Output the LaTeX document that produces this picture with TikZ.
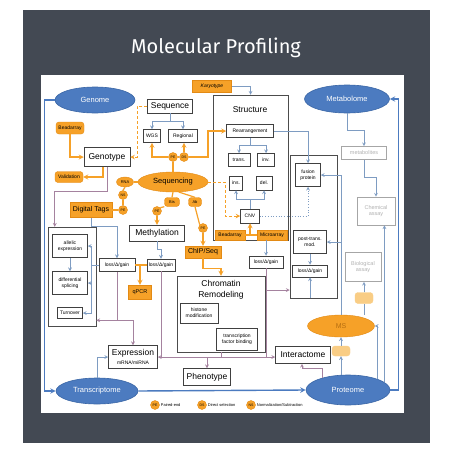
\documentclass[tikz,border=0pt]{standalone}
\usepackage{fontspec}
\setmainfont{Liberation Sans}
\newfontfamily\titlefont{Fira Sans}
\usetikzlibrary{shapes.geometric,arrows}
\definecolor{board}{HTML}{434953}
\definecolor{orfill}{HTML}{F6A128}
\definecolor{orline}{HTML}{E38A14}
\definecolor{orpale}{HTML}{F9CD85}
\definecolor{omfill}{HTML}{4C7BC0}
\definecolor{omline}{HTML}{3A66A6}
\definecolor{flow}{HTML}{7E9CC2}
\definecolor{link}{HTML}{A5829F}
\begin{document}
\begin{tikzpicture}[x=1pt,y=-1pt,
        >=stealth,
        box/.style={
          draw=black!75,
          fill=white,
          line width=0.5pt,
          inner sep=0.5pt,
          align=center,
          font=\fontsize{5}{5.6}\selectfont
        },
        bigbox/.style={
          box,
          font=\fontsize{8.5}{10}\selectfont
        },
        frame/.style={
          draw=black!70,
          line width=0.5pt
        },
        faint/.style={
          draw=black!35,
          fill=white,
          line width=0.6pt,
          inner sep=0.5pt,
          align=center,
          text=black!30,
          font=\fontsize{5.5}{6.5}\selectfont
        },
        tag/.style={
          fill=orfill,
          draw=orline,
          line width=0.4pt,
          inner sep=0.5pt,
          align=center,
          font=\fontsize{5}{5.6}\selectfont
        },
        pill/.style={
          tag,
          rounded corners=3pt
        },
        dot/.style={
          tag,
          circle,
          minimum size=9,
          inner sep=0pt,
          font=\fontsize{3.5}{4}\selectfont
        },
        omic/.style={
          ellipse,
          fill=omfill,
          draw=omline,
          line width=0.6pt,
          inner sep=0pt,
          text=white,
          font=\fontsize{7.5}{8}\selectfont
        },
        thinflow/.style={
          ->,
          draw=flow,
          line width=0.7pt
        },
        linkflow/.style={
          ->,
          draw=link,
          line width=0.7pt
        },
        orflow/.style={
          ->,
          draw=orfill,
          line width=1.2pt
        },
        ordash/.style={
          orflow,
          line width=1pt,
          dash pattern=on 3pt off 2pt
        },
        bigflow/.style={
          ->,
          draw=omfill,
          line width=1.4pt
        }
      ]
        \fill[white] (0,0) rectangle (453,453);
        \fill[board] (23,10) rectangle (430,443);
        \fill[white] (41,75) rectangle (404,413);
        \node[text=white,font=\titlefont\fontsize{20}{20}\selectfont] (title) at (216,48) {Molecular Profiling};

        \node[omic,minimum width=80,minimum height=26] (genome) at (95,100) {Genome};
        \node[omic,minimum width=85,minimum height=28] (metab) at (347,99) {Metabolome};
        \node[omic,minimum width=82,minimum height=26] (transc) at (97,391) {Transcriptome};
        \node[omic,minimum width=84,minimum height=30] (prot) at (348,390) {Proteome};

        \node[bigbox,minimum width=45,minimum height=14] (seq) at (170,106) {Sequence};
        \node[box,minimum width=17,minimum height=13] (wgs) at (152,136) {WGS};
        \node[box,minimum width=29,minimum height=13] (regional) at (183,136) {Regional};
        \node[tag,minimum width=39,minimum height=12] (karyo) at (212,86) {\itshape Karyotype};

        \node[frame,minimum width=75,minimum height=145] (struct) at (250.5,167.5) {};
        \node[font=\fontsize{8.5}{10}\selectfont] (structlbl) at (250,110) {Structure};
        \node[box,minimum width=47,minimum height=13] (rearr) at (250,131) {Rearrangement};
        \node[box,minimum width=22,minimum height=13] (trans) at (239,160) {trans.};
        \node[box,minimum width=17,minimum height=13] (inv) at (266,160) {inv.};
        \node[box,minimum width=13,minimum height=14] (ins) at (236,183) {ins.};
        \node[box,minimum width=16,minimum height=14] (del) at (264,183) {del.};
        \node[box,minimum width=19,minimum height=14] (cnv) at (250,216) {CNV};
        \node[tag,minimum width=30,minimum height=10] (beadS) at (230,235) {Beadarray};
        \node[tag,minimum width=30,minimum height=10] (micro) at (272,235) {Microarray};

        \node[frame,minimum width=47,minimum height=143] (postbox) at (313.5,226.5) {};
        \node[box,minimum width=25,minimum height=23] (fusion) at (308,175) {fusion\\protein};
        \node[box,minimum width=33,minimum height=23] (ptm) at (310,242) {post-trans.\\mod.};
        \node[box,minimum width=35,minimum height=12] (lossP) at (310,271) {loss/Δ/gain};
        \node[box,minimum width=34,minimum height=12] (lossS) at (266,262) {loss/Δ/gain};

        \node[faint,minimum width=45,minimum height=13] (metabolites) at (364,153) {metabolites};
        \node[faint,minimum width=38,minimum height=28] (chem) at (376,211) {Chemical\\assay};
        \node[faint,minimum width=36,minimum height=29] (bio) at (363,267) {Biological\\assay};

        \node[tag,ellipse,minimum width=67,minimum height=22,inner sep=0pt,text=orline!80!black,font=\fontsize{7}{8}\selectfont] (ms) at (341,326) {MS};
        \node[pill,fill=orpale,draw=orpale,minimum width=18,minimum height=11] (msin) at (364,298) {};
        \node[pill,fill=orpale,draw=orpale,minimum width=18,minimum height=10] (msout) at (341,351) {};

        \node[bigbox,minimum width=55,minimum height=17] (inter) at (303,355) {Interactome};
        \node[bigbox,minimum width=47,minimum height=17] (pheno) at (207,377) {Phenotype};
        \node[frame,minimum width=88,minimum height=76] (chrom) at (221,314) {};
        \node[font=\fontsize{8.5}{11}\selectfont,align=center] (chromlbl) at (221,290) {Chromatin\\Remodeling};
        \node[box,minimum width=38,minimum height=20] (histone) at (199,313) {histone\\modification};
        \node[box,minimum width=41,minimum height=22] (tfb) at (237,339) {transcription\\factor binding};
        \node[bigbox,minimum width=49,minimum height=23] (expr) at (133,357) {Expression\\[-1pt]{\fontsize{5}{6}\selectfont mRNA/miRNA}};
        \node[bigbox,minimum width=55,minimum height=16] (meth) at (157,233) {Methylation};
        \node[tag,minimum width=36,minimum height=12,font=\fontsize{7}{8}\selectfont] (chip) at (203,252) {ChIP/Seq};
        \node[box,minimum width=36,minimum height=13] (lossL) at (117,265) {loss/Δ/gain};
        \node[box,minimum width=28,minimum height=12] (lossM) at (161,265) {loss/Δ/gain};
        \node[tag,minimum width=23,minimum height=14,font=\fontsize{5.5}{6}\selectfont] (qpcr) at (140,292) {qPCR};

        \node[frame,minimum width=48,minimum height=99] (leftbox) at (72,276.5) {};
        \node[box,minimum width=35,minimum height=23] (allelic) at (70,246) {allelic\\expression};
        \node[box,minimum width=35,minimum height=23] (splicing) at (70,283) {differential\\splicing};
        \node[box,minimum width=25,minimum height=11] (turnover) at (70,313) {Turnover};

        \node[bigbox,minimum width=46,minimum height=19] (genotype) at (107,157) {Genotype};
        \node[pill,minimum width=28,minimum height=12] (beadG) at (70,128) {Beadarray};
        \node[pill,minimum width=28,minimum height=11] (valid) at (69,177) {Validation};

        \node[tag,ellipse,minimum width=70,minimum height=20,inner sep=0pt,font=\fontsize{7.5}{8}\selectfont] (seqing) at (173,182) {Sequencing};
        \node[tag,ellipse,minimum width=17,minimum height=10,inner sep=0pt,font=\fontsize{4}{4}\selectfont] (rna) at (125,182) {RNA};
        \node[dot] (ns) at (123,195) {NS};
        \node[dot] (pe1) at (123,210) {PE};
        \node[tag,minimum width=42,minimum height=15,font=\fontsize{7}{8}\selectfont] (digital) at (91,210) {Digital Tags};
        \node[pill,minimum width=15,minimum height=9,font=\fontsize{4}{4}\selectfont] (bis) at (172,202) {Bis};
        \node[pill,minimum width=13,minimum height=9,font=\fontsize{4}{4}\selectfont] (ab) at (195,202) {Ab};
        \node[dot] (pe2) at (157,211) {PE};
        \node[dot] (pe3) at (203,228) {PE};
        \node[dot] (pe4) at (173,157) {PE};
        \node[dot] (ds) at (184,157) {DS};

        \foreach \x/\t/\l/\n in {155/PE/Paired-end/1,202/DS/Direct selection/2,251/NS/{Normalization/Subtraction}/3}{
          \node[dot] (key\n) at (\x,405) {\t};
          \node[anchor=west,inner sep=1pt,font=\fontsize{4}{4}\selectfont] (keytext\n) at (key\n.east) {\l};
        }

        \draw[bigflow] (genome.west) -- ++(-10,0) |- (transc.west);
        \draw[bigflow] (transc.east) -- (prot.west);
        \draw[bigflow] (prot.east) -- ++(8,0) |- (metab.east);

        \draw[orflow] (beadG.south) |- (genotype.west);
        \draw[orflow] ([xshift=-4]genotype.south) |- (valid.east);
        \draw[orflow,-] (seqing.north) -- (pe4.south);
        \draw[orflow] (pe4.west) -| (wgs.south);
        \draw[orflow,-] (pe4.east) -- (ds.west);
        \draw[orflow] (ds.north) -- (ds.north |- regional.south);
        \coordinate (seqbend) at (208,157);
        \draw[orflow] (ds.east) -- (seqbend) |- (rearr.west);
        \draw[orflow,-] (rna.east) -- (seqing.west);
        \draw[orflow,-] (rna.south) -- (ns.north);
        \draw[orflow,-] (ns.south) -- (pe1.north);
        \draw[orflow,-] (pe1.west) -- (digital.east);
        \draw[orflow,-] (seqing.south) -- (bis.north);
        \draw[orflow,-] (bis.south west) -- (pe2.north east);
        \draw[orflow] (pe2.south) -- (meth.north);
        \draw[orflow,-] (seqing.-60) -- (ab.north);
        \draw[orflow,-] (ab.south) -- (pe3.north west);
        \draw[orflow] (pe3.south) -- (chip.north);
        \draw[orflow] (chip.south) -- ++(0,10) -| (chrom.north);
        \draw[orflow,-] (beadS.east) -- (micro.west);
        \draw[orflow] (beadS.east -| cnv.south) -- (cnv.south);
        \draw[orflow,-] (lossL.east) -- (lossM.west);
        \draw[orflow] (lossL.east -| qpcr.north) -- (qpcr.north);
        \draw[ordash] (seq.west) -- ++(-10,0) |- (genotype.east);
        \draw[ordash] (seqing.east) -- ++(17,0) |- (cnv.west);

        \draw[thinflow] (seq.south) -- ++(0,8) -| (wgs.north);
        \draw[thinflow] (seq.south) -- ++(0,8) -| (regional.north);
        \draw[thinflow] (karyo.east) -| (struct.north);
        \draw[thinflow] (rearr.south) -- ++(0,8) -| (trans.north);
        \draw[thinflow] (rearr.south) -- ++(0,8) -| (inv.north);
        \draw[thinflow] (cnv.north) -- ++(0,-9) -| (ins.south);
        \draw[thinflow] (cnv.north) -- ++(0,-9) -| (del.south);
        \draw[thinflow] (rearr.east) -| (fusion.north);
        \draw[thinflow,dotted] (cnv.east) -| (fusion.south);
        \draw[thinflow] (struct.south -| lossS.north) -- (lossS.north);
        \draw[thinflow] (ptm.south) -- (lossP.north);
        \draw[thinflow] (lossP.south |- postbox.south) -- (lossP.south);
        \draw[thinflow] (metab.south) -- ++(0,17) -| (metabolites.north);
        \draw[thinflow] (metabolites.south) -- ++(0,18) -| (chem.north);
        \draw[thinflow] (digital.south) -- ++(0,9) -| (lossL.north);
        \draw[thinflow] (meth.south) -- ++(0,8) -| (lossM.north);
        \draw[thinflow,-] (lossL.west) -- ++(-7,0) coordinate (fan);
        \draw[thinflow] (fan) |- (allelic.east);
        \draw[thinflow] (fan) |- (splicing.east);
        \draw[thinflow] (fan) |- (turnover.east);
        \draw[thinflow] (allelic.south) -- (splicing.north);
        \draw[thinflow] (transc.north) |- (expr.west);

        \draw[thinflow] (prot.north -| msout.south) -- (msout.south);
        \draw[thinflow] (msout.north) -- (ms.south -| msout.north);
        \draw[thinflow,-] (ms.north -| msin.south) -- (msin.south);
        \draw[thinflow] (msin.north) -- (msin.north |- bio.south);
        \draw[thinflow] (prot.20) |- (ms.east);
        \draw[thinflow] (prot.12) -- (prot.12 |- chem.south);
        \draw[thinflow,-] (ms.north) -- (ms.north |- fusion.east) coordinate (msrise);
        \draw[thinflow] (msrise) -- (fusion.east);
        \draw[thinflow] (ms.north |- ptm.east) -- (ptm.east);

        \draw[linkflow] (genotype.south) -- ++(0,25) -| ([xshift=7]leftbox.north west);
        \coordinate (hub) at (chrom.south |- expr.east);
        \draw[linkflow,-] (chrom.south) -- (hub);
        \draw[linkflow] (hub) -- (expr.east);
        \draw[linkflow] (hub) -- (hub -| inter.west);
        \draw[linkflow] (hub -| pheno.north) -- (pheno.north);
        \draw[linkflow,-] (lossM.south) -- (lossM.south |- expr.east);
        \draw[linkflow,-] (lossL.south) -- ++(0,48.5) coordinate (drop);
        \draw[linkflow] (drop) -- (drop -| leftbox.east);
        \draw[linkflow] (drop) -| (expr.north);
        \draw[linkflow,-] (lossS.south) -- (lossS.south |- hub);
        \coordinate (tap) at (lossS.south |- chromlbl.east);
        \draw[linkflow] (tap) -- (tap -| postbox.west);
        \draw[linkflow] (prot.155) -- ++(0,-10) -| ([xshift=-1]inter.south);
      \end{tikzpicture}
\end{document}
